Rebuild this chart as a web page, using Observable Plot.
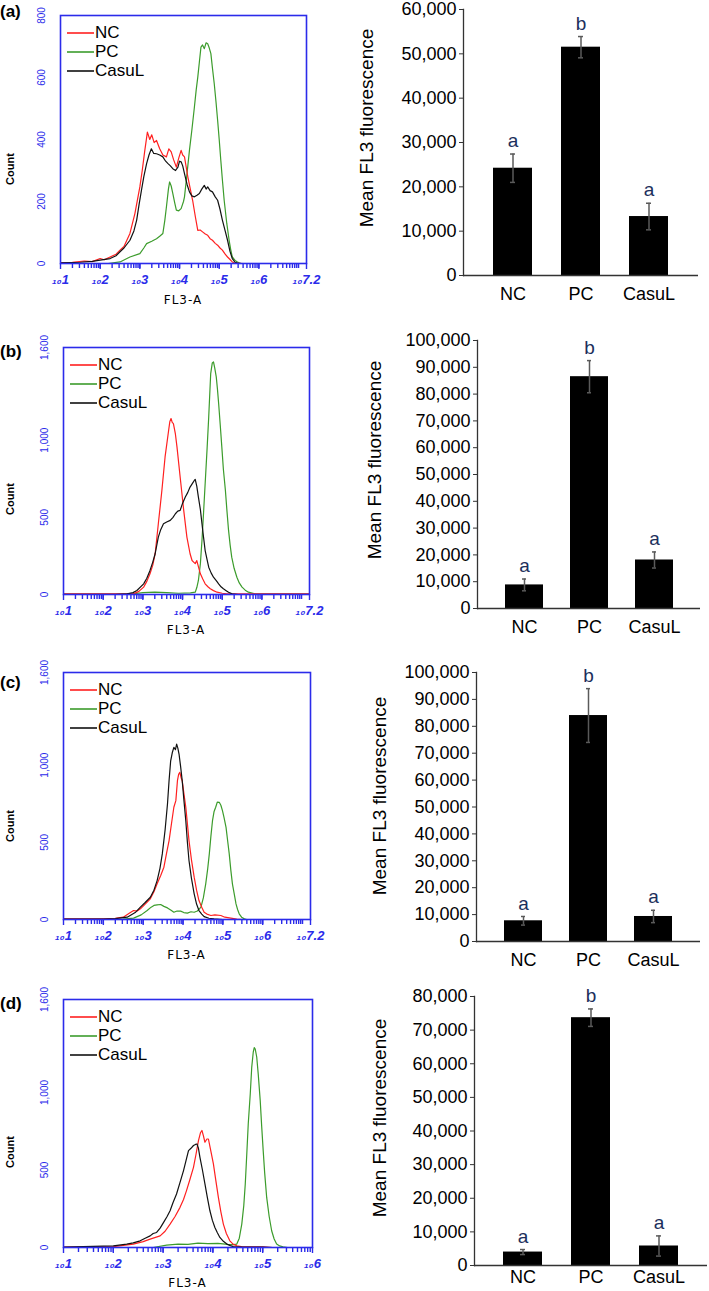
<!DOCTYPE html>
<html><head><meta charset="utf-8">
<script src="https://cdn.jsdelivr.net/npm/d3@7"></script>
<script src="https://cdn.jsdelivr.net/npm/@observablehq/plot@0.6"></script>
<style>
body{margin:0;background:#fff;}
#fig{position:relative;width:709px;height:1291px;overflow:hidden;font-family:Arial,"Liberation Sans",sans-serif;background:#fff;}
#fig > svg{position:absolute;overflow:visible;}
.abs{position:absolute;white-space:nowrap;}
.plabel{font-weight:bold;font-size:17px;transform:translateY(-50%);}
.rot{transform:translate(-50%,-50%) rotate(-90deg);}
.count{font-weight:bold;font-size:11px;}
.ylab{font-size:19px;}
.fl3{font-family:"DejaVu Sans",sans-serif;font-size:12px;letter-spacing:1px;transform:translate(-50%,-50%);}
.leg{font-size:17px;transform:translateY(-50%);display:flex;align-items:center;line-height:18px;}
.leg svg{display:block;margin-right:1px;}
</style></head><body><div id="fig"></div>
<script>
// ---------- DATA ----------
const groups = ["NC", "PC", "CasuL"];
const seriesColors = ["#ff2020", "#3c9c2c", "#111111"];
const panelLetters = ["(a)", "(b)", "(c)", "(d)"];

// Histogram curves: [log10(FL3-A), count]
const aNC = [[1.0,3],[1.3,4],[1.6,8],[1.8,6],[2.0,16],[2.1,12],[2.25,21],[2.4,30],[2.5,43],[2.6,55],[2.75,97],[2.875,161],[3.0,247],[3.06,300],[3.125,365],[3.19,424],[3.25,400],[3.3,415],[3.36,390],[3.42,397],[3.5,370],[3.58,350],[3.67,344],[3.73,370],[3.79,360],[3.85,335],[3.92,311],[3.98,340],[4.04,365],[4.08,350],[4.125,344],[4.21,279],[4.33,204],[4.4,150],[4.46,107],[4.52,108],[4.58,102],[4.65,95],[4.71,91],[4.77,80],[4.83,75],[4.9,65],[4.96,59],[5.02,50],[5.08,43],[5.15,30],[5.21,21],[5.28,12],[5.33,5],[5.4,1],[5.6,0]];
const aPC = [[2.2,0],[2.5,5],[2.75,21],[3.0,32],[3.1,50],[3.17,64],[3.3,72],[3.42,80],[3.5,88],[3.58,97],[3.63,140],[3.67,183],[3.72,240],[3.75,263],[3.79,250],[3.83,226],[3.88,195],[3.92,172],[3.98,170],[4.04,177],[4.1,200],[4.125,215],[4.18,280],[4.25,365],[4.31,430],[4.375,505],[4.42,560],[4.46,601],[4.5,650],[4.54,698],[4.58,705],[4.625,693],[4.67,712],[4.71,709],[4.75,695],[4.79,677],[4.83,630],[4.875,580],[4.92,520],[4.96,462],[5.0,400],[5.04,333],[5.08,270],[5.125,204],[5.19,130],[5.25,75],[5.29,45],[5.33,21],[5.4,10],[5.46,5],[5.55,0]];
const aCasuL = [[1.0,2],[1.5,4],[1.8,7],[2.0,11],[2.25,16],[2.4,25],[2.5,38],[2.6,50],[2.75,75],[2.85,105],[2.92,140],[2.98,190],[3.04,236],[3.1,280],[3.17,322],[3.23,350],[3.29,370],[3.35,355],[3.42,354],[3.5,350],[3.58,344],[3.65,330],[3.71,322],[3.77,315],[3.83,306],[3.9,300],[3.96,311],[4.0,330],[4.04,328],[4.08,315],[4.125,290],[4.19,255],[4.25,231],[4.31,218],[4.375,215],[4.44,220],[4.5,226],[4.56,240],[4.625,252],[4.67,240],[4.71,247],[4.77,235],[4.83,231],[4.9,215],[4.96,204],[5.02,175],[5.08,140],[5.15,105],[5.21,75],[5.27,40],[5.33,16],[5.4,4],[5.5,0]];

const bNC = [[1.0,4],[2.0,4],[2.5,4],[2.76,4],[2.9,20],[3.02,48],[3.1,85],[3.18,134],[3.25,190],[3.31,264],[3.39,458],[3.48,675],[3.56,891],[3.65,1064],[3.68,1120],[3.71,1140],[3.74,1115],[3.77,1107],[3.82,1040],[3.86,956],[3.94,761],[4.03,545],[4.11,372],[4.19,264],[4.24,220],[4.28,210],[4.32,200],[4.36,220],[4.4,180],[4.45,134],[4.51,100],[4.57,69],[4.64,50],[4.70,37],[4.78,25],[4.87,15],[5.0,8],[5.12,4],[6.0,4],[7.2,4]];
const bPC = [[1.0,5],[2.5,5],[2.8,6],[3.0,12],[3.3,15],[3.6,12],[3.9,8],[4.2,10],[4.32,15],[4.36,45],[4.40,91],[4.45,200],[4.49,350],[4.53,530],[4.57,718],[4.62,950],[4.66,1150],[4.69,1320],[4.71,1431],[4.75,1500],[4.78,1507],[4.81,1470],[4.85,1410],[4.88,1330],[4.91,1237],[4.95,1100],[4.99,956],[5.03,810],[5.08,675],[5.12,540],[5.16,415],[5.2,320],[5.24,242],[5.3,170],[5.37,112],[5.43,75],[5.50,48],[5.58,28],[5.66,15],[5.8,6],[6.2,5],[7.2,5]];
const bCasuL = [[2.3,0],[2.6,4],[2.75,12],[2.85,26],[3.02,69],[3.1,105],[3.18,156],[3.25,210],[3.31,264],[3.39,372],[3.45,420],[3.52,458],[3.6,470],[3.69,480],[3.76,500],[3.82,523],[3.88,540],[3.94,545],[4.0,590],[4.07,631],[4.13,660],[4.19,696],[4.25,720],[4.3,740],[4.32,745],[4.36,700],[4.40,631],[4.45,550],[4.49,458],[4.53,370],[4.57,285],[4.62,225],[4.66,177],[4.72,140],[4.78,112],[4.85,90],[4.91,69],[4.97,50],[5.03,37],[5.1,25],[5.16,15],[5.25,4],[5.4,0]];

const cNC = [[1.0,4],[2.0,5],[2.3,8],[2.5,15],[2.65,40],[2.76,58],[2.85,55],[2.93,69],[3.05,100],[3.18,134],[3.27,180],[3.35,231],[3.44,285],[3.52,339],[3.58,420],[3.65,511],[3.71,620],[3.77,727],[3.82,770],[3.86,899],[3.89,940],[3.92,953],[3.95,920],[3.98,899],[4.02,820],[4.07,727],[4.11,620],[4.15,511],[4.21,390],[4.28,274],[4.34,190],[4.40,123],[4.47,80],[4.53,47],[4.6,35],[4.70,26],[4.8,30],[4.95,26],[5.05,15],[5.20,9],[5.35,2],[5.5,0]];
const cPC = [[1.5,0],[2.5,3],[2.76,9],[2.95,30],[3.10,58],[3.2,80],[3.27,91],[3.35,95],[3.44,97],[3.52,85],[3.61,75],[3.7,60],[3.77,47],[3.85,55],[3.94,54],[4.02,45],[4.11,41],[4.2,50],[4.28,47],[4.36,55],[4.45,80],[4.51,140],[4.57,231],[4.62,330],[4.66,425],[4.70,540],[4.74,640],[4.78,700],[4.82,727],[4.86,760],[4.91,759],[4.95,740],[4.99,705],[5.03,660],[5.08,597],[5.12,510],[5.16,425],[5.2,320],[5.24,231],[5.29,160],[5.33,101],[5.37,65],[5.41,37],[5.47,15],[5.54,4],[5.6,0]];
const cCasuL = [[1.0,2],[2.0,3],[2.3,6],[2.6,15],[2.8,45],[2.93,80],[3.05,110],[3.18,144],[3.27,190],[3.35,252],[3.42,330],[3.48,425],[3.55,580],[3.61,748],[3.65,900],[3.69,1028],[3.73,1080],[3.77,1115],[3.81,1100],[3.84,1136],[3.87,1110],[3.90,1072],[3.94,990],[3.98,899],[4.02,780],[4.07,640],[4.11,500],[4.15,382],[4.21,270],[4.28,166],[4.34,100],[4.40,58],[4.47,35],[4.53,19],[4.65,8],[4.78,4],[5.0,0]];

const dNC = [[1.0,3],[2.0,6],[2.40,22],[2.6,38],[2.74,54],[2.94,75],[3.04,105],[3.14,151],[3.24,200],[3.34,259],[3.41,310],[3.47,367],[3.54,440],[3.61,517],[3.66,600],[3.71,690],[3.75,740],[3.78,755],[3.81,720],[3.84,679],[3.88,700],[3.91,700],[3.96,620],[4.01,539],[4.06,430],[4.11,323],[4.16,230],[4.21,151],[4.27,90],[4.34,43],[4.41,20],[4.48,11],[4.6,4],[5.0,4],[5.2,0]];
const dPC = [[2.8,0],[3.07,15],[3.3,22],[3.5,20],[3.7,28],[3.9,25],[4.1,26],[4.3,20],[4.41,18],[4.48,22],[4.53,60],[4.58,151],[4.62,270],[4.65,410],[4.68,600],[4.71,798],[4.75,990],[4.78,1164],[4.81,1260],[4.83,1290],[4.85,1280],[4.88,1229],[4.91,1120],[4.95,949],[4.98,780],[5.01,625],[5.04,480],[5.08,323],[5.13,200],[5.18,108],[5.23,55],[5.28,22],[5.34,10],[5.41,4],[5.5,0]];
const dCasuL = [[1.0,2],[2.0,11],[2.27,22],[2.4,30],[2.54,43],[2.64,60],[2.74,75],[2.8,90],[2.87,97],[2.94,125],[3.01,162],[3.08,200],[3.14,237],[3.2,290],[3.27,345],[3.34,420],[3.41,496],[3.46,560],[3.51,625],[3.56,640],[3.61,658],[3.65,665],[3.68,668],[3.71,640],[3.74,582],[3.79,500],[3.84,410],[3.89,320],[3.94,237],[3.99,175],[4.04,129],[4.09,95],[4.14,65],[4.21,40],[4.28,22],[4.35,12],[4.41,6],[4.6,3],[5.0,3],[5.2,0]];

// Histogram axes
const countTicksA = [0, 200, 400, 600, 800];
const countTicksBCD = [0, 500, 1000, 1600];
const expLabels72 = [1, 2, 3, 4, 5, 6, 7.2];
const expLabels6 = [1, 2, 3, 4, 5, 6];

// Bar charts: mean FL3 fluorescence ± error, significance letters
const barMeanA = [24200, 51500, 13300];
const barErrA  = [3200, 2400, 3000];
const barMeanB = [8800, 86500, 18100];
const barErrB  = [2200, 6000, 3000];
const barMeanC = [7700, 84000, 9300];
const barErrC  = [1600, 10000, 2300];
const barMeanD = [4000, 73700, 5800];
const barErrD  = [750, 2600, 3000];
const sigLetters = ["a", "b", "a"];
const barTicks60 = [0, 10000, 20000, 30000, 40000, 50000, 60000];
const barTicks100 = [0, 10000, 20000, 30000, 40000, 50000, 60000, 70000, 80000, 90000, 100000];
const barTicks80 = [0, 10000, 20000, 30000, 40000, 50000, 60000, 70000, 80000];

// ---------- LAYOUT ----------
const fig = document.getElementById("fig");
const blue = "#2b2bea";

function addDiv(cls, html, x, y) {
  const d = document.createElement("div");
  d.className = "abs " + cls;
  d.innerHTML = html;
  d.style.left = x + "px";
  d.style.top = y + "px";
  fig.appendChild(d);
  return d;
}

const histPanels = [
  {series: [aNC, aPC, aCasuL], frameTop: 15, frameBottom: 263, left: 60, right: 306, ymax: 800, yticks: countTicksA, xmax: 7.2, exps: expLabels72, letterY: 12, countY: 169, flY: 300},
  {series: [bNC, bPC, bCasuL], frameTop: 347, frameBottom: 594, left: 63, right: 309, ymax: 1600, yticks: countTicksBCD, xmax: 7.2, exps: expLabels72, letterY: 352, countY: 499, flY: 630},
  {series: [cNC, cPC, cCasuL], frameTop: 672, frameBottom: 919, left: 63, right: 310, ymax: 1600, yticks: countTicksBCD, xmax: 7.2, exps: expLabels72, letterY: 683, countY: 826, flY: 955},
  {series: [dNC, dPC, dCasuL], frameTop: 999, frameBottom: 1247, left: 63, right: 312, ymax: 1600, yticks: countTicksBCD, xmax: 6, exps: expLabels6, letterY: 1004, countY: 1152, flY: 1283}
];

histPanels.forEach((p, i) => {
  const mT = 10, mB = 45, mR = 20;
  const width = p.right + mR;
  const height = (p.frameBottom - p.frameTop) + mT + mB;
  const majors = p.exps.map(e => 10 ** e);
  const minors = [];
  for (let k = 1; k < Math.ceil(p.xmax); k++) {
    for (let m = 2; m <= 10; m++) {
      const v = m * 10 ** k;
      if (v < 10 ** p.xmax - 1) minors.push(v);
    }
  }
  const order = [1, 0, 2]; // draw PC, NC, CasuL
  const lineMarks = order.map(s => Plot.line(p.series[s], {
    x: d => 10 ** d[0], y: d => d[1], stroke: seriesColors[s], strokeWidth: 1.2
  }));
  const svg = Plot.plot({
    width, height,
    marginLeft: p.left, marginRight: mR, marginTop: mT, marginBottom: mB,
    style: {fontFamily: "Arial, 'Liberation Sans', sans-serif", fontSize: "10px", color: blue, background: "transparent"},
    x: {type: "log", domain: [10, 10 ** p.xmax]},
    y: {domain: [0, p.ymax]},
    marks: [
      ...lineMarks,
      Plot.frame({stroke: blue, strokeWidth: 1.6}),
      Plot.axisY({ticks: p.yticks, tickFormat: d3.format(","), tickRotate: -90, tickSize: 0, tickPadding: 16, fontSize: 10, label: null}),
      Plot.axisX({ticks: minors, tickSize: 5, tickFormat: () => "", label: null, strokeWidth: 1.4}),
      Plot.axisX({ticks: majors, tickSize: 6, tickPadding: 5, strokeWidth: 1.4, fontSize: 13, fontStyle: "italic", fontWeight: "bold",
        tickFormat: v => "\u2081\u2080" + (Math.round(Math.log10(v) * 10) / 10), label: null})
    ]
  });
  svg.style.left = "0px";
  svg.style.top = (p.frameTop - mT) + "px";
  fig.appendChild(svg);

  addDiv("plabel", panelLetters[i], 0, p.letterY);
  addDiv("count rot", "Count", 10, p.countY);
  addDiv("fl3", "FL3-A", (p.left + p.right) / 2, p.flY);
  groups.forEach((g, j) => {
    const line = `<svg width="27" height="4"><line x1="0" x2="27" y1="2" y2="2" stroke="${seriesColors[j]}" stroke-width="1.6"/></svg>`;
    addDiv("leg", line + g, p.left + 7, p.frameTop + 18 + j * 19);
  });
});

const barPanels = [
  {mean: barMeanA, err: barErrA, ticks: barTicks60, axisTop: 9, axisBottom: 275, axisLeft: 463, axisRight: 698, ylabX: 367, ylabY: 128, pad: 12},
  {mean: barMeanB, err: barErrB, ticks: barTicks100, axisTop: 340, axisBottom: 608, axisLeft: 477, axisRight: 700, ylabX: 375, ylabY: 460, pad: 12},
  {mean: barMeanC, err: barErrC, ticks: barTicks100, axisTop: 672, axisBottom: 941, axisLeft: 476, axisRight: 700, ylabX: 380, ylabY: 796, pad: 12},
  {mean: barMeanD, err: barErrD, ticks: barTicks80, axisTop: 996, axisBottom: 1265, axisLeft: 474, axisRight: 707, ylabX: 380, ylabY: 1118, pad: 5}
];

barPanels.forEach((p) => {
  const left0 = 330, mT = 10, mB = 34;
  const rows = groups.map((g, i) => ({cat: g, mean: p.mean[i], err: p.err[i], letter: sigLetters[i]}));
  const ymax = p.ticks[p.ticks.length - 1];
  const svg = Plot.plot({
    width: 709 - left0,
    height: (p.axisBottom - p.axisTop) + mT + mB,
    marginLeft: p.axisLeft - left0, marginRight: 709 - p.axisRight, marginTop: mT, marginBottom: mB,
    style: {fontFamily: "Arial, 'Liberation Sans', sans-serif", fontSize: "18px", color: "#000", background: "transparent"},
    x: {domain: groups, padding: 0.42},
    y: {domain: [0, ymax]},
    marks: [
      Plot.barY(rows, {x: "cat", y: "mean", fill: "#000"}),
      Plot.ruleX(rows, {x: "cat", y1: d => d.mean - d.err, y2: d => d.mean + d.err, stroke: "#5a5a5a", strokeWidth: 1.5}),
      Plot.tickY(rows, {x: "cat", y: d => d.mean + d.err, stroke: "#5a5a5a", strokeWidth: 1.5, insetLeft: 17, insetRight: 17}),
      Plot.tickY(rows, {x: "cat", y: d => d.mean - d.err, stroke: "#5a5a5a", strokeWidth: 1.5, insetLeft: 17, insetRight: 17}),
      Plot.text(rows, {x: "cat", y: d => d.mean + d.err, text: "letter", dy: -13, fill: "#1c2f5c", fontSize: 19}),
      Plot.ruleY([0], {stroke: "#333", strokeWidth: 1.3}),
      Plot.frame({anchor: "left", stroke: "#333", strokeWidth: 1.3}),
      Plot.axisY({ticks: p.ticks, tickFormat: d3.format(","), tickSize: 4, tickPadding: 3, fontSize: 18, label: null, stroke: "#333"}),
      Plot.axisX({tickSize: 0, tickPadding: p.pad, fontSize: 18, label: null})
    ]
  });
  svg.style.left = left0 + "px";
  svg.style.top = (p.axisTop - mT) + "px";
  fig.appendChild(svg);
  addDiv("ylab rot", "Mean FL3 fluorescence", p.ylabX, p.ylabY);
});
</script></body></html>
